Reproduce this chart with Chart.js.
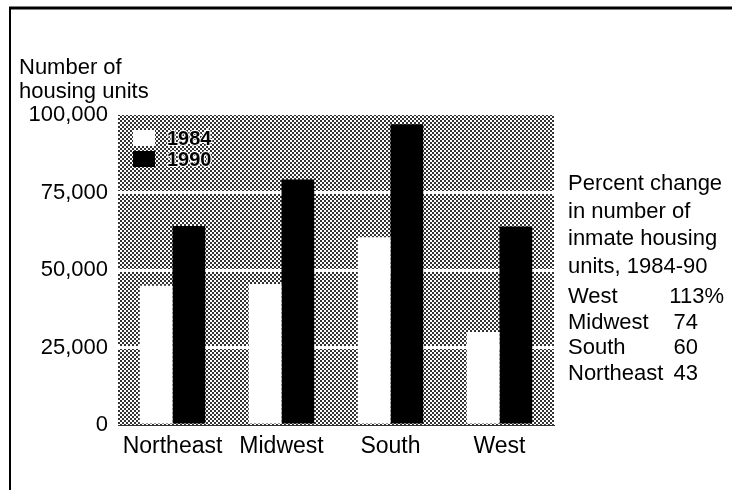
<!DOCTYPE html>
<html>
<head>
<meta charset="utf-8">
<script src="https://cdn.jsdelivr.net/npm/chart.js@4"></script>
<style>
html,body{margin:0;padding:0;background:#fff;}
#wrap{width:732px;height:490px;position:relative;}
</style>
</head>
<body>
<div id="wrap"><canvas id="c" width="732" height="490"></canvas></div>
<script>
const categories = ["Northeast", "Midwest", "South", "West"];
const seriesNames = ["1984", "1990"];
const values1984 = [44900, 45500, 60600, 30000];
const values1990 = [64200, 79200, 97000, 64000];
const yTicks = [0, 25000, 50000, 75000, 100000];
const axisTitle = ["Number of", "housing units"];
const noteLines = ["Percent change", "in number of", "inmate housing", "units, 1984-90"];
const pctRegions = ["West", "Midwest", "South", "Northeast"];
const pctValues = ["113%", "74", "60", "43"];

const FONT = '"Liberation Sans", Arial, Helvetica, sans-serif';

function makePattern(ctx) {
  const p = document.createElement('canvas');
  p.width = 4; p.height = 4;
  const g = p.getContext('2d');
  g.fillStyle = '#fff'; g.fillRect(0, 0, 4, 4);
  g.fillStyle = '#333';
  g.fillRect(0, 0, 2, 2);
  g.fillRect(2, 2, 2, 2);
  return ctx.createPattern(p, 'repeat');
}

const decor = {
  id: 'decor',
  beforeDraw(chart) {
    const ctx = chart.ctx, a = chart.chartArea;
    ctx.save();
    ctx.fillStyle = '#fff';
    ctx.fillRect(0, 0, chart.width, chart.height);
    ctx.fillStyle = makePattern(ctx);
    ctx.fillRect(a.left, a.top, a.right - a.left, a.bottom - a.top);
    ctx.restore();
  },
  afterDraw(chart) {
    const ctx = chart.ctx, a = chart.chartArea;
    ctx.save();
    // frame
    ctx.strokeStyle = '#000';
    ctx.lineWidth = 3;
    ctx.beginPath(); ctx.moveTo(9, 8); ctx.lineTo(732, 8); ctx.stroke();
    ctx.lineWidth = 2;
    ctx.beginPath(); ctx.moveTo(10, 7); ctx.lineTo(10, 490); ctx.stroke();
    // axis title
    ctx.fillStyle = '#000';
    ctx.font = '22px ' + FONT;
    ctx.textAlign = 'left'; ctx.textBaseline = 'middle';
    ctx.fillText(axisTitle[0], 19, 68);
    ctx.fillText(axisTitle[1], 19, 92);
    // legend inside plot
    const colors = ['#fff', '#000'];
    ctx.font = 'bold 20px ' + FONT;
    for (let i = 0; i < seriesNames.length; i++) {
      const y = a.top + 15 + i * 21;
      ctx.fillStyle = colors[i];
      ctx.fillRect(a.left + 15, y, 22, 16);
      ctx.lineWidth = 2; ctx.strokeStyle = '#fff';
      ctx.strokeText(seriesNames[i], a.left + 49, y + 9);
      ctx.fillStyle = '#000';
      ctx.fillText(seriesNames[i], a.left + 49, y + 9);
    }
    // right note
    ctx.font = '22px ' + FONT;
    ctx.fillStyle = '#000';
    const nx = 568;
    noteLines.forEach((t, i) => ctx.fillText(t, nx, 184 + i * 27.5));
    pctRegions.forEach((r, i) => {
      const y = 297 + i * 25.5;
      ctx.textAlign = 'left';
      ctx.fillText(r, nx, y);
      ctx.textAlign = 'right';
      ctx.fillText(pctValues[i], i === 0 ? 724 : 698, y);
    });
    ctx.restore();
  }
};

new Chart(document.getElementById('c'), {
  type: 'bar',
  data: {
    labels: categories,
    datasets: [
      { label: seriesNames[0], data: values1984, backgroundColor: '#fff', borderWidth: 0 },
      { label: seriesNames[1], data: values1990, backgroundColor: '#000', borderWidth: 0 }
    ]
  },
  options: {
    responsive: false,
    animation: false,
    devicePixelRatio: 1,
    layout: { padding: { left: 0, top: 115, right: 178, bottom: 25 } },
    plugins: { legend: { display: false }, tooltip: { enabled: false } },
    datasets: { bar: { categoryPercentage: 0.6, barPercentage: 1.0 } },
    scales: {
      x: {
        grid: { display: false, drawTicks: false },
        border: { display: true, color: '#333', width: 1, dash: [1, 2] },
        ticks: { color: '#000', font: { family: FONT, size: 23 }, padding: 8 },
        afterFit(s) { s.height = 40; }
      },
      y: {
        min: 0, max: 100000,
        afterBuildTicks(s) { s.ticks = yTicks.map(v => ({ value: v })); },
        afterFit(s) { s.width = 118; },
        grid: {
          drawTicks: false, tickLength: 0,
          color: c => (c.tick && c.tick.value > 0 && c.tick.value < 100000) ? '#fff' : 'rgba(0,0,0,0)',
          lineWidth: 3
        },
        border: { display: false },
        ticks: {
          color: '#000', padding: 10,
          font: { family: FONT, size: 22 },
          callback: v => v.toLocaleString('en-US')
        }
      }
    }
  },
  plugins: [decor]
});
</script>
</body>
</html>
